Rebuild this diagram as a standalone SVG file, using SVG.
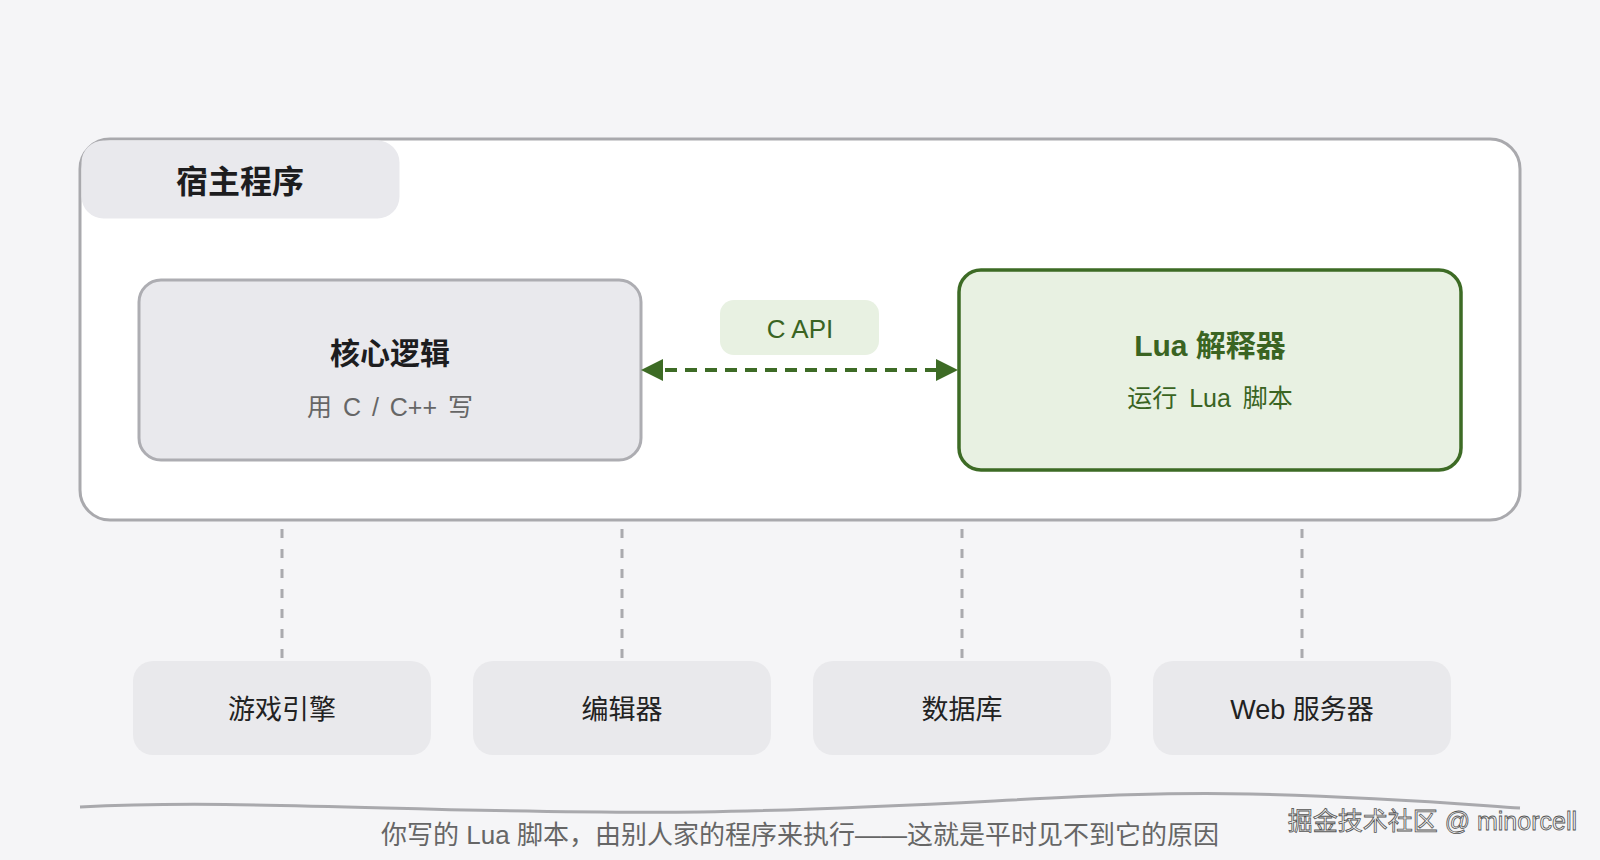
<svg xmlns="http://www.w3.org/2000/svg" width="1600" height="860" viewBox="0 0 1600 860">
<defs>
<style>
text{font-family:"Liberation Sans","Noto Sans CJK SC",sans-serif;text-anchor:middle}
.gbox{fill:#e9e9ed;stroke:#adadb2;stroke-width:3}
.lbox{fill:#e8f1e2;stroke:#3d6b25;stroke-width:3.5}
.ext{fill:#e9e9ec}
.title{font-size:30px;font-weight:bold;fill:#1d1d1f}
.sub{font-size:25px;fill:#666;word-spacing:4px}
.gtitle{font-size:30px;font-weight:bold;fill:#3a6422}
.gsub{font-size:25px;fill:#3a6422;word-spacing:5px}
.ext-t{font-size:27px;fill:#222}
.vdash{stroke:#aaaaae;stroke-width:3;stroke-dasharray:9 11;fill:none}
</style>
<marker id="ah" viewBox="0 0 22 22" markerWidth="22" markerHeight="22" refX="18" refY="11" orient="auto-start-reverse" markerUnits="userSpaceOnUse">
<path d="M0,0 L22,11 L0,22 z" fill="#3d6b25"/>
</marker>
</defs>
<rect x="0" y="0" width="1600" height="860" fill="#f5f5f7"/>

<g id="host">
<rect x="80" y="139" width="1440" height="381" rx="30" fill="#ffffff" stroke="#a9a9ad" stroke-width="3"/>
<rect x="81.5" y="140.5" width="318" height="78" rx="22" fill="#e9e9ed"/>
<text x="240" y="193" style="font-size:32px;font-weight:bold;fill:#1d1d1f">宿主程序</text>
</g>

<g id="core">
<rect class="gbox" x="139" y="280" width="502" height="180" rx="22"/>
<text class="title" x="390" y="364">核心逻辑</text>
<text class="sub" x="390" y="416">用 C / C++ 写</text>
</g>

<g id="lua">
<rect class="lbox" x="959" y="270" width="502" height="200" rx="22"/>
<text class="gtitle" x="1210" y="356">Lua 解释器</text>
<text class="gsub" x="1210" y="407">运行 Lua 脚本</text>
</g>

<g id="capi">
<rect x="720" y="300" width="159" height="55" rx="14" fill="#e8f1e2"/>
<text x="800" y="338" style="font-size:26px;fill:#3a6422">C API</text>
</g>

<g id="ext1">
<rect class="ext" x="133" y="661" width="298" height="94" rx="20"/>
<text class="ext-t" x="282" y="719">游戏引擎</text>
</g>
<g id="ext2">
<rect class="ext" x="473" y="661" width="298" height="94" rx="20"/>
<text class="ext-t" x="622" y="719">编辑器</text>
</g>
<g id="ext3">
<rect class="ext" x="813" y="661" width="298" height="94" rx="20"/>
<text class="ext-t" x="962" y="719">数据库</text>
</g>
<g id="ext4">
<rect class="ext" x="1153" y="661" width="298" height="94" rx="20"/>
<text class="ext-t" x="1302" y="719">Web 服务器</text>
</g>

<g id="connectors">
<line x1="645" y1="370" x2="954" y2="370" stroke="#3d6b25" stroke-width="4" stroke-dasharray="12 8" marker-start="url(#ah)" marker-end="url(#ah)"/>
<line class="vdash" x1="282" y1="529" x2="282" y2="660"/>
<line class="vdash" x1="622" y1="529" x2="622" y2="660"/>
<line class="vdash" x1="962" y1="529" x2="962" y2="660"/>
<line class="vdash" x1="1302" y1="529" x2="1302" y2="660"/>
</g>

<g id="footer">
<path d="M80,807 C250,798 450,815 700,812 C950,808 1100,790 1250,794 C1380,797 1460,804 1520,808" fill="none" stroke="#a9a9ad" stroke-width="3"/>
<text x="800" y="844" style="font-size:26px;fill:#666">你写的 Lua 脚本，由别人家的程序来执行——这就是平时见不到它的原因</text>
<text x="1577" y="830" style="font-size:25px;fill:#f2f2f2;stroke:#555;stroke-width:0.8;text-anchor:end">掘金技术社区 @ minorcell</text>
</g>
</svg>
